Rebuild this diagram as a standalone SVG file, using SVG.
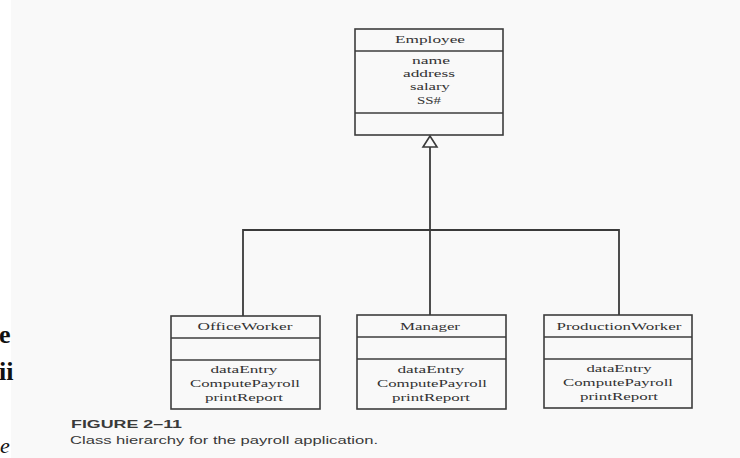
<svg xmlns="http://www.w3.org/2000/svg" width="740" height="458" viewBox="0 0 740 458">
  <style>
    .box { fill: none; stroke: #3d3d3d; stroke-width: 1.6; }
    .sep { stroke: #3d3d3d; stroke-width: 1.6; }
    .uml { font-family: "Liberation Serif", "Times New Roman", serif; font-size: 11px; fill: #333333; text-anchor: middle; }
    .link { fill: none; stroke: #3a3a3a; stroke-width: 1.8; }
    .page { font-family: "Liberation Serif", "Times New Roman", serif; font-weight: bold; fill: #111; }
    .page-it { font-family: "Liberation Serif", "Times New Roman", serif; font-style: italic; font-weight: normal; fill: #111; }
    .cap { font-family: "Liberation Sans", Arial, sans-serif; fill: #3a3a3a; }
  </style>

  <!-- paper -->
  <rect x="0" y="0" width="740" height="458" fill="#ffffff"/>
  <rect x="11" y="0" width="729" height="458" fill="#f9f9f9"/>

  <!-- fragments of the neighbouring page at the left edge -->
  <g id="page-edge">
    <text class="page" x="-1" y="343" font-size="26">e</text>
    <text class="page" x="-1" y="380" font-size="26">ii</text>
    <text class="page-it" x="0" y="453" font-size="22">e</text>
  </g>

  <!-- generalisation connectors -->
  <g id="connectors">
    <polyline class="link" points="430,147 430,230"/>
    <polyline class="link" points="243,316 243,230 619,230 619,315"/>
    <polyline class="link" points="430,230 430,315"/>
    <polygon points="430,136 423,147 437,147" fill="#f9f9f9" stroke="#3a3a3a" stroke-width="1.6"/>
  </g>

  <!-- Employee -->
  <g id="employee">
    <rect class="box" x="355" y="29" width="148" height="106"/>
    <line class="sep" x1="355" y1="51" x2="503" y2="51"/>
    <line class="sep" x1="355" y1="113" x2="503" y2="113"/>
    <text class="uml" x="430" y="43" textLength="70" lengthAdjust="spacingAndGlyphs">Employee</text>
    <text class="uml" x="431" y="64" textLength="38" lengthAdjust="spacingAndGlyphs">name</text>
    <text class="uml" x="429" y="77" textLength="52" lengthAdjust="spacingAndGlyphs">address</text>
    <text class="uml" x="430" y="90" textLength="40" lengthAdjust="spacingAndGlyphs">salary</text>
    <text class="uml" x="429" y="104" textLength="24" lengthAdjust="spacingAndGlyphs">SS#</text>
  </g>

  <!-- OfficeWorker -->
  <g id="office-worker">
    <rect class="box" x="171" y="316" width="149" height="93"/>
    <line class="sep" x1="171" y1="338" x2="320" y2="338"/>
    <line class="sep" x1="171" y1="360" x2="320" y2="360"/>
    <text class="uml" x="245" y="330" textLength="95" lengthAdjust="spacingAndGlyphs">OfficeWorker</text>
    <text class="uml" x="244" y="373" textLength="67" lengthAdjust="spacingAndGlyphs">dataEntry</text>
    <text class="uml" x="245" y="387" textLength="110" lengthAdjust="spacingAndGlyphs">ComputePayroll</text>
    <text class="uml" x="244" y="401" textLength="78" lengthAdjust="spacingAndGlyphs">printReport</text>
  </g>

  <!-- Manager -->
  <g id="manager">
    <rect class="box" x="357" y="315" width="149" height="94"/>
    <line class="sep" x1="357" y1="337" x2="506" y2="337"/>
    <line class="sep" x1="357" y1="359" x2="506" y2="359"/>
    <text class="uml" x="430" y="330" textLength="60" lengthAdjust="spacingAndGlyphs">Manager</text>
    <text class="uml" x="431" y="373" textLength="67" lengthAdjust="spacingAndGlyphs">dataEntry</text>
    <text class="uml" x="432" y="387" textLength="110" lengthAdjust="spacingAndGlyphs">ComputePayroll</text>
    <text class="uml" x="431" y="401" textLength="78" lengthAdjust="spacingAndGlyphs">printReport</text>
  </g>

  <!-- ProductionWorker -->
  <g id="production-worker">
    <rect class="box" x="544" y="315" width="148" height="93"/>
    <line class="sep" x1="544" y1="337" x2="692" y2="337"/>
    <line class="sep" x1="544" y1="359" x2="692" y2="359"/>
    <text class="uml" x="619" y="330" textLength="125" lengthAdjust="spacingAndGlyphs">ProductionWorker</text>
    <text class="uml" x="619" y="372" textLength="65" lengthAdjust="spacingAndGlyphs">dataEntry</text>
    <text class="uml" x="618" y="386" textLength="110" lengthAdjust="spacingAndGlyphs">ComputePayroll</text>
    <text class="uml" x="619" y="400" textLength="78" lengthAdjust="spacingAndGlyphs">printReport</text>
  </g>

  <!-- figure caption -->
  <g id="caption">
    <text class="cap" x="71" y="428" font-size="10" font-weight="bold" textLength="111" lengthAdjust="spacingAndGlyphs">FIGURE 2–11</text>
    <text class="cap" x="70" y="444" font-size="11" textLength="308" lengthAdjust="spacingAndGlyphs">Class hierarchy for the payroll application.</text>
  </g>
</svg>
